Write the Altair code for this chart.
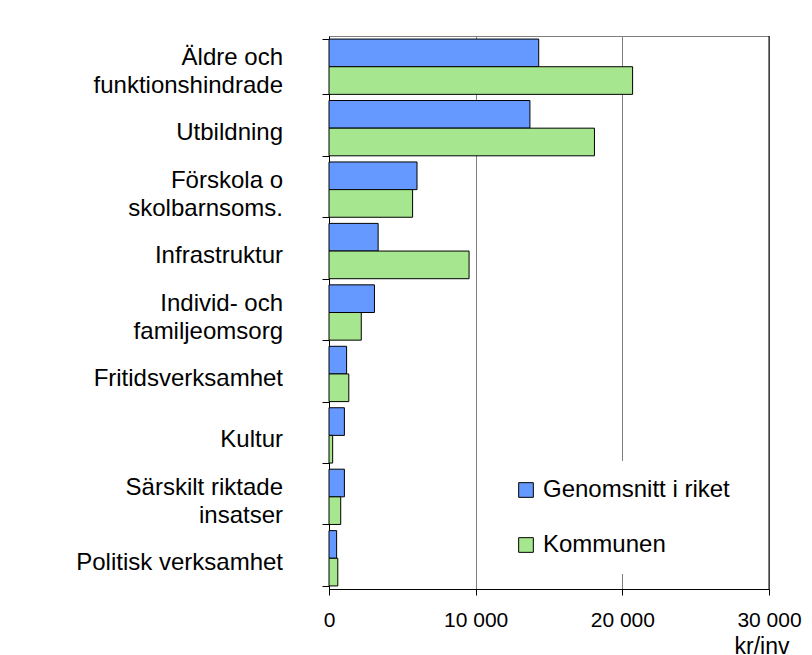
import altair as alt
import pandas as pd

categories = ["Äldre och|funktionshindrade", "Utbildning", "Förskola o|skolbarnsoms.",
              "Infrastruktur", "Individ- och|familjeomsorg", "Fritidsverksamhet",
              "Kultur", "Särskilt riktade|insatser", "Politisk verksamhet"]
riket = [14300, 13700, 6000, 3350, 3100, 1200, 1050, 1050, 520]
kommunen = [20700, 18100, 5700, 9550, 2200, 1350, 250, 800, 600]
series = ["Genomsnitt i riket", "Kommunen"]
colors = ["#6699ff", "#a6e68f"]
x_ticks = [0, 10000, 20000, 30000]
x_unit = "kr/inv"

rows = []
for c, a, b in zip(categories, riket, kommunen):
    rows.append({"cat": c, "serie": series[0], "val": a})
    rows.append({"cat": c, "serie": series[1], "val": b})
df = pd.DataFrame(rows)

label_rows = []
for c in categories:
    parts = c.split("|")
    if len(parts) == 1:
        label_rows.append({"cat": c, "line": parts[0], "kind": "single"})
    else:
        label_rows.append({"cat": c, "line": parts[0], "kind": "first"})
        label_rows.append({"cat": c, "line": parts[1], "kind": "second"})
ldf = pd.DataFrame(label_rows)

FONT = "Liberation Sans"

yenc = alt.Y("cat:N", sort=categories,
             scale=alt.Scale(paddingInner=0.1, paddingOuter=0.05),
             axis=alt.Axis(title=None, labels=False,
                           tickBand="extent", tickSize=7, tickColor="black",
                           domainColor="black"))

bars = alt.Chart(df).mark_bar(stroke="black", strokeWidth=1).encode(
    y=yenc,
    yOffset=alt.YOffset("serie:N", sort=series),
    x=alt.X("val:Q", scale=alt.Scale(domain=[0, 30000], nice=False),
            axis=alt.Axis(values=x_ticks,
                          labelExpr="replace(format(datum.value, ','), ',', ' ')",
                          labelFontSize=21, labelColor="black", labelPadding=14,
                          labelFlush=False, labelOverlap=False,
                          tickSize=6, tickColor="black", domainColor="black",
                          grid=True, gridColor="#808080", gridWidth=1,
                          title=x_unit, titleFontSize=23, titleFontWeight="normal",
                          titleColor="black", titleAlign="right", titleBaseline="top",
                          titleX=460, titleY=46)),
    color=alt.Color("serie:N", scale=alt.Scale(domain=series, range=colors),
                    legend=alt.Legend(title=None, orient="none", legendX=168, legendY=425,
                                      fillColor="white", padding=17, symbolType="square",
                                      symbolSize=215, symbolStrokeColor="black",
                                      symbolStrokeWidth=1, symbolOpacity=1,
                                      labelFontSize=24, labelColor="black", labelLimit=400,
                                      rowPadding=31, labelOffset=5)),
)

label_layers = []
for kind, dy in [("single", 5), ("first", -9), ("second", 19)]:
    label_layers.append(
        alt.Chart(ldf).transform_filter(alt.datum.kind == kind).mark_text(
            align="right", baseline="middle", dy=dy, fontSize=24, font=FONT, color="black"
        ).encode(
            y=alt.Y("cat:N", sort=categories),
            x=alt.value(-46),
            text="line:N",
        )
    )

border = alt.Chart(pd.DataFrame({"x": [30000]})).mark_rule(color="black", strokeWidth=1).encode(
    x="x:Q"
)

chart = alt.layer(bars, border, *label_layers).properties(
    width=440, height=553,
    autosize=alt.AutoSizeParams(type="none"),
    padding={"left": 321, "top": 28, "right": 35, "bottom": 66},
    background="white",
).configure_view(stroke="#808080").configure_axis(
    labelFont=FONT, titleFont=FONT
).configure_legend(labelFont=FONT)

chart.save("out.html", embed_options={"renderer": "svg", "actions": False})
